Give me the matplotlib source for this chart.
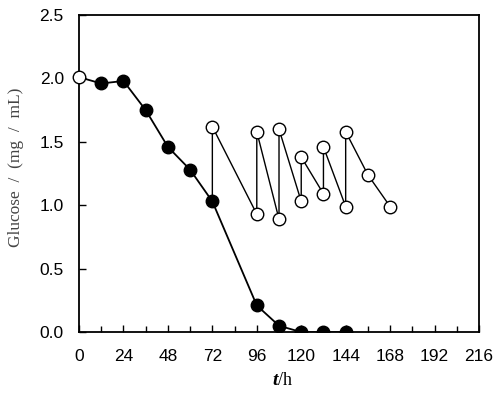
import matplotlib
matplotlib.use("Agg")
import matplotlib.pyplot as plt
from matplotlib.ticker import MultipleLocator

# Batch culture (filled)
batch_t = [0, 12, 24, 36, 48, 60, 72, 96, 108, 120, 132, 144]
batch_g = [2.01, 1.96, 1.98, 1.75, 1.46, 1.28, 1.03, 0.21, 0.05, 0.0, 0.0, 0.0]

# Fed-batch (open), starts from batch point at 72 h
fed_t = [72, 72, 96, 96, 108, 108, 120, 120, 132, 132, 144, 144, 156, 168]
fed_g = [1.03, 1.62, 0.93, 1.58, 0.89, 1.60, 1.03, 1.38, 1.09, 1.46, 0.99, 1.58, 1.24, 0.99]

xticks = [0, 24, 48, 72, 96, 120, 144, 168, 192, 216]
yticks = [0.0, 0.5, 1.0, 1.5, 2.0, 2.5]

fig = plt.figure(figsize=(4.94, 4.11), dpi=100)
ax = fig.add_axes([0.16, 0.192, 0.8096, 0.7715])

ax.plot(fed_t, fed_g, color="black", lw=1.0, zorder=2)
ax.plot(fed_t[1:], fed_g[1:], "o", ms=9, mfc="white", mec="black", mew=1.0, zorder=3)
ax.plot(batch_t, batch_g, color="black", lw=1.3, zorder=2)
ax.plot(batch_t[1:], batch_g[1:], "o", ms=9, mfc="black", mec="black", zorder=4)
ax.plot(batch_t[:1], batch_g[:1], "o", ms=9, mfc="white", mec="black", mew=1.0, zorder=4, clip_on=False)

ax.set_xlim(0, 216)
ax.set_ylim(0, 2.5)
ax.set_xticks(xticks)
ax.set_yticks(yticks)
ax.set_yticklabels([f"{v:.1f}" for v in yticks])
ax.xaxis.set_minor_locator(MultipleLocator(12))
ax.tick_params(which="both", direction="in", labelsize=12.5, width=1.0)
ax.tick_params(which="major", length=5)
ax.tick_params(which="minor", length=4)
ax.tick_params(axis="x", pad=12)
ax.tick_params(axis="y", pad=11)
for lab in ax.get_xticklabels() + ax.get_yticklabels():
    lab.set_fontfamily("Liberation Sans")
for s in ax.spines.values():
    s.set_linewidth(1.3)

ax.set_ylabel("Glucose  /  (mg  /  mL)", fontfamily="Liberation Serif", fontsize=12.5, color="#444444")
ax.yaxis.set_label_coords(-0.137, 0.52)
fig.text(0.5625, 0.075, "t", fontfamily="Liberation Serif", fontstyle="italic", fontweight="bold", fontsize=14, ha="right", va="center")
fig.text(0.5625, 0.075, "/h", fontfamily="Liberation Serif", fontsize=13, ha="left", va="center")

fig.savefig("out.png", dpi=100)
